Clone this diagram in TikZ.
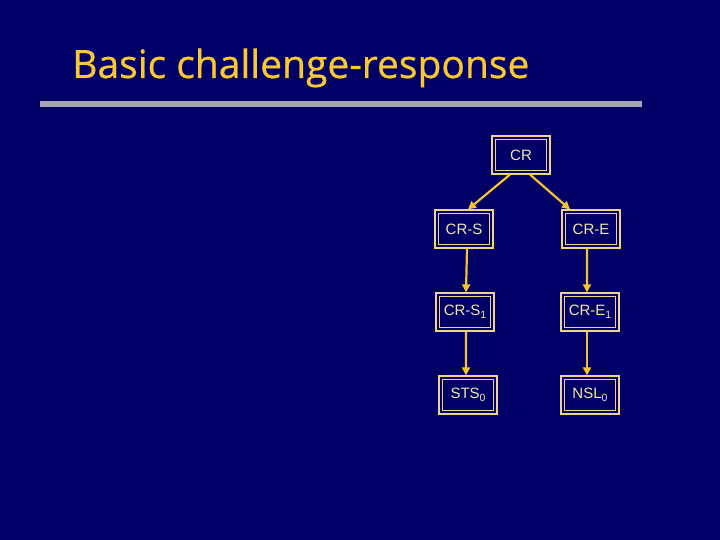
\documentclass[tikz,border=0pt]{standalone}
\usepackage{fontspec}
\setmainfont{Liberation Sans}
\newfontfamily\titlefont[FakeBold=0.6]{Open Sans}
\usetikzlibrary{arrows.meta}
\definecolor{bgnavy}{RGB}{0,0,102}
\definecolor{titlegold}{RGB}{250,200,50}
\definecolor{boxline}{RGB}{240,210,140}
\definecolor{boxtext}{RGB}{245,230,170}
\definecolor{arrowgold}{RGB}{245,195,50}
\definecolor{bargray}{RGB}{165,165,180}
\newcommand{\mysub}[1]{\raisebox{-3bp}{\fontsize{10.5bp}{10bp}\selectfont #1}}
\tikzset{
  crbox/.style={draw=boxline, line width=1.2bp,
    minimum width=58bp, minimum height=38bp, inner sep=0pt,
    text=boxtext, font=\fontsize{15bp}{17bp}\selectfont,
    path picture={\draw[boxline, line width=1.2bp]
      ([shift={(3.4bp,-3.4bp)}]path picture bounding box.north west) rectangle
      ([shift={(-3.4bp,3.4bp)}]path picture bounding box.south east);}},
  crarrow/.style={draw=arrowgold, line width=2.2bp, -{Triangle[length=8bp,width=8bp]}}
}
\begin{document}
\begin{tikzpicture}[x=1bp,y=-1bp]
\fill[bgnavy] (0,0) rectangle (720,540);
\useasboundingbox (0,0) rectangle (720,540);
\node[anchor=base west, inner sep=0pt, text=titlegold, font=\titlefont\fontsize{39bp}{44bp}\selectfont] (title) at (72,78) {Basic challenge-response};
\fill[bargray] (40,101) rectangle (642,107);
\node[crbox] (cr) at (521,155) {CR};
\node[crbox] (crs) at (464,229) {CR-S};
\node[crbox] (cre) at (591,229) {CR-E};
\node[crbox] (crs1) at (465,312) {CR-S\mysub{1}};
\node[crbox] (cre1) at (590,312) {CR-E\mysub{1}};
\node[crbox] (sts) at (468,395) {STS\mysub{0}};
\node[crbox] (nsl) at (590,395) {NSL\mysub{0}};
\draw[crarrow] ([xshift=-11bp]cr.south) -- ([xshift=4bp]crs.north);
\draw[crarrow] ([xshift=9bp]cr.south) -- ([xshift=-21bp]cre.north);
\draw[crarrow] ([xshift=3bp]crs.south) -- ([xshift=1bp]crs1.north);
\draw[crarrow] ([xshift=-4bp]cre.south) -- ([xshift=-3bp]cre1.north);
\draw[crarrow] ([xshift=1bp]crs1.south) -- ([xshift=-2bp]sts.north);
\draw[crarrow] ([xshift=-3bp]cre1.south) -- ([xshift=-3bp]nsl.north);
\end{tikzpicture}
\end{document}
